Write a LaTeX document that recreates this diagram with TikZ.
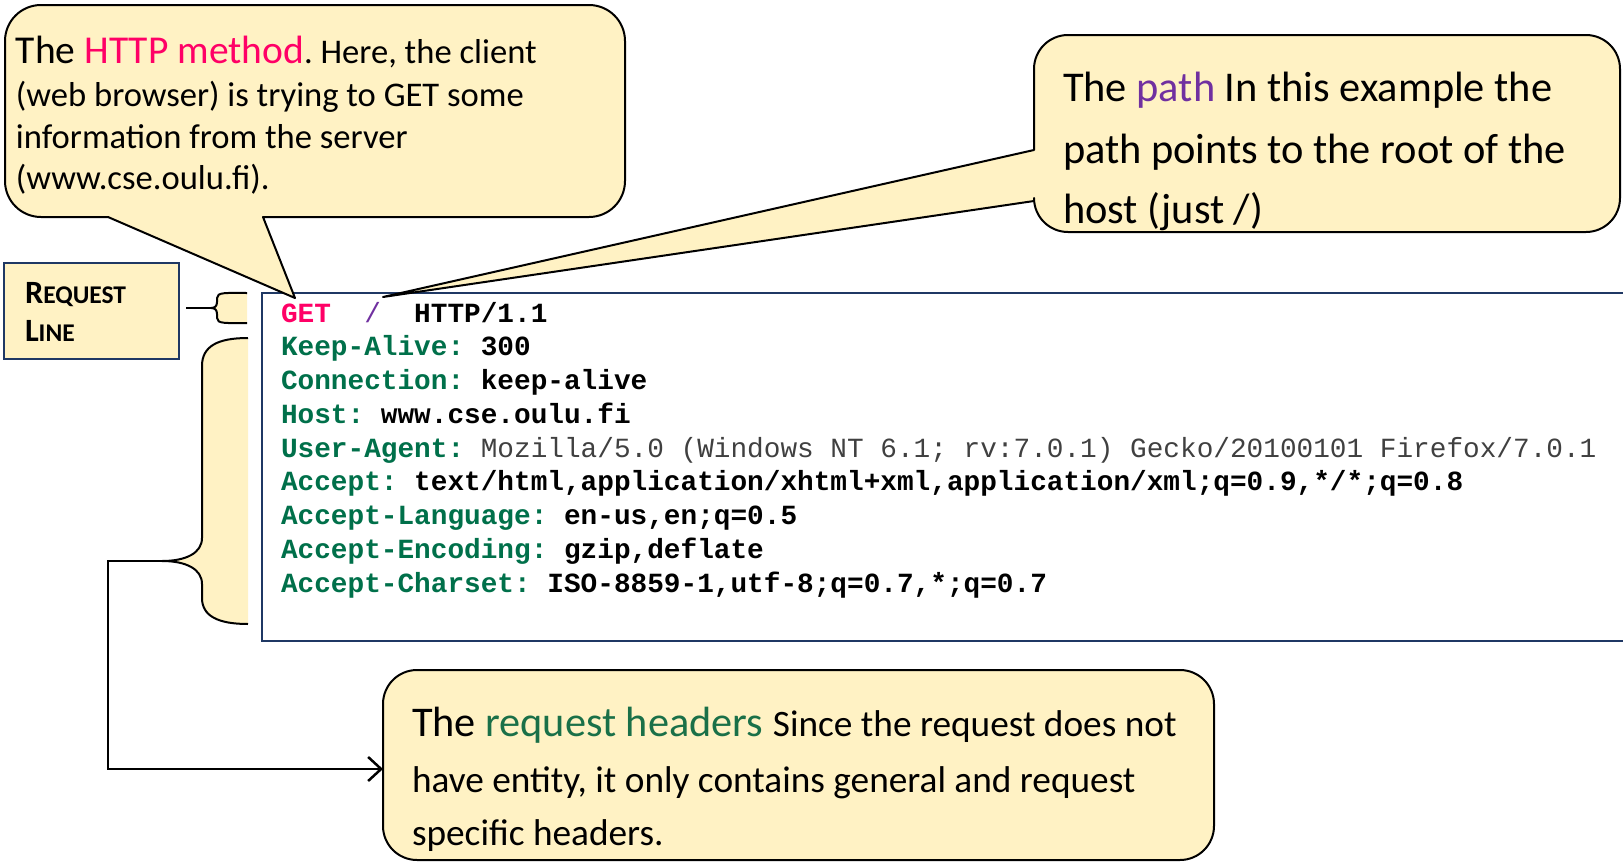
\documentclass[tikz,border=0pt]{standalone}
\usepackage{fontspec}
\setmainfont{Carlito}
\newfontfamily\codefont{Liberation Mono}
\usetikzlibrary{arrows.meta}
\definecolor{callfill}{HTML}{FFF2C4}
\definecolor{navy}{HTML}{1F3864}
\definecolor{methodpink}{HTML}{FF0066}
\definecolor{keygreen}{HTML}{00704A}
\definecolor{hdrgreen}{HTML}{1A7048}
\definecolor{pathpurple}{HTML}{7030A0}
\definecolor{uagray}{HTML}{404040}
\newcommand\szOneBig{\fontsize{39.5}{40}\selectfont}
\newcommand\szOneSmall{\fontsize{34.6}{35}\selectfont}
\newcommand\szTwo{\fontsize{42.4}{43}\selectfont}
\newcommand\szThreeBig{\fontsize{42.3}{43}\selectfont}
\newcommand\szThreeSmall{\fontsize{37.3}{38}\selectfont}
\newcommand\hkey[1]{\textcolor{keygreen}{#1}}
\frenchspacing
\begin{document}
\begin{tikzpicture}[x=1pt,y=-1pt,
  txt/.style={anchor=base west, inner sep=0pt, outer sep=0pt},
  codeline/.style={anchor=base west, inner sep=0pt, outer sep=0pt, font=\codefont\bfseries\fontsize{27.75}{28}\selectfont},
  calloutshape/.style={draw=black, line width=2pt, fill=callfill, line join=round},
  navybox/.style={draw=navy, line width=2.5pt, inner sep=0pt, outer sep=0pt, anchor=north west},
  bracestyle/.style={draw=black, line width=2pt},
  conn/.style={draw=black, line width=2.5pt}
]
\useasboundingbox (0,0) rectangle (1623,862);

% code box
\node[navybox, fill=white, minimum width=1400pt, minimum height=348pt] (code) at (262,293) {};

% request line box
\node[navybox, fill=callfill, minimum width=175pt, minimum height=96pt] (rl) at (4,263) {};
\node[txt] (rlA) at (25,303) {\bfseries{\fontsize{32.5}{33}\selectfont R}{\fontsize{25.5}{26}\selectfont EQUEST}};
\node[txt] (rlB) at (25,341) {\bfseries{\fontsize{32.5}{33}\selectfont L}{\fontsize{25.5}{26}\selectfont INE}};

% brace 1 (request line)
\coordinate (b1tip) at (211,308);
\coordinate (b1end) at (186,308);
\fill[callfill] (247,293) .. controls (226,293) and (217,292) .. (217,298) -- (217,302)
  .. controls (217,306) and (215,308) .. (b1tip)
  .. controls (215,308) and (217,310) .. (217,314) -- (217,318)
  .. controls (217,324) and (226,323) .. (247,323) -- cycle;
\draw[bracestyle] (247,293) .. controls (226,293) and (217,292) .. (217,298) -- (217,302)
  .. controls (217,306) and (215,308) .. (b1tip)
  .. controls (215,308) and (217,310) .. (217,314) -- (217,318)
  .. controls (217,324) and (226,323) .. (247,323);
\draw[conn] (b1end) -- (b1tip);

% brace 2 (headers)
\coordinate (b2tip) at (162,561);
\coordinate (elbow) at (108,561);
\fill[callfill] (248,338) .. controls (218,338) and (202,346) .. (202,366) -- (202,538)
  .. controls (202,553) and (186,561) .. (b2tip)
  .. controls (186,561) and (202,569) .. (202,584) -- (202,598)
  .. controls (202,616) and (218,624) .. (248,624) -- cycle;
\draw[bracestyle] (248,338) .. controls (218,338) and (202,346) .. (202,366) -- (202,538)
  .. controls (202,553) and (186,561) .. (b2tip)
  .. controls (186,561) and (202,569) .. (202,584) -- (202,598)
  .. controls (202,616) and (218,624) .. (248,624);

% callout 3 (request headers)
\node[draw=black, line width=2pt, fill=callfill, rounded corners=34pt, inner sep=0pt, outer sep=0pt,
      anchor=north west, minimum width=831pt, minimum height=190pt] (c3) at (383,670) {};
\draw[conn, -{Straight Barb[length=13pt, width=24pt]}] (b2tip) -- (elbow) |- ([yshift=-4pt]c3.west);

% callout 1 (HTTP method)
\coordinate (c1tip) at (295,298);
\path[calloutshape] [rounded corners=36pt] (108,217) -- (5,217) -- (5,5) -- (625,5) -- (625,217)
  [sharp corners] -- (263,217) -- (c1tip) -- cycle;

% callout 2 (path)
\coordinate (c2tip) at (383,297);
\path[calloutshape] [rounded corners=34pt] (1034,150) -- (1034,35) -- (1620,35) -- (1620,232) -- (1034,232)
  [sharp corners] -- (1034,201) -- (c2tip) -- cycle;

% callout 1 text
\node[txt] (c1l1) at (16,63) {\szOneBig The \textcolor{methodpink}{HTTP method}\szOneSmall. Here, the client};
\node[txt] (c1l2) at (16,106) {\szOneSmall (web browser) is trying to GET some};
\node[txt] (c1l3) at (16,148) {\szOneSmall information from the server};
\node[txt] (c1l4) at (16,189) {\szOneSmall (www.cse.oulu.fi).};

% callout 2 text
\node[txt] (c2l1) at (1063,101) {\szTwo The \textcolor{pathpurple}{path} In this example the};
\node[txt] (c2l2) at (1063,163) {\szTwo path points to the root of the};
\node[txt] (c2l3) at (1063,223) {\szTwo host (just /)};

% callout 3 text
\node[txt] (c3l1) at (412,736) {\szThreeBig The \textcolor{hdrgreen}{request headers} \szThreeSmall Since the request does not};
\node[txt] (c3l2) at (412,792) {\szThreeSmall have entity, it only contains general and request};
\node[txt] (c3l3) at (412,845) {\szThreeSmall specific headers.};

% code lines
\node[codeline] (k1) at (281,322) {\textcolor{methodpink}{GET}\phantom{xx}{\mdseries\textcolor{pathpurple}{/}}\phantom{xx}HTTP/1.1};
\node[codeline] (k2) at (281,355.75) {\hkey{Keep-Alive:} 300};
\node[codeline] (k3) at (281,389.5) {\hkey{Connection:} keep-alive};
\node[codeline] (k4) at (281,423.25) {\hkey{Host:} www.cse.oulu.fi};
\node[codeline] (k5) at (281,457) {\hkey{User-Agent:} {\mdseries\color{uagray}Mozilla/5.0 (Windows NT 6.1; rv:7.0.1) Gecko/20100101 Firefox/7.0.1}};
\node[codeline] (k6) at (281,490.75) {\hkey{Accept:} text/html,application/xhtml+xml,application/xml;q=0.9,*/*;q=0.8};
\node[codeline] (k7) at (281,524.5) {\hkey{Accept-Language:} en-us,en;q=0.5};
\node[codeline] (k8) at (281,558.25) {\hkey{Accept-Encoding:} gzip,deflate};
\node[codeline] (k9) at (281,592) {\hkey{Accept-Charset:} ISO-8859-1,utf-8;q=0.7,*;q=0.7};
\end{tikzpicture}
\end{document}
